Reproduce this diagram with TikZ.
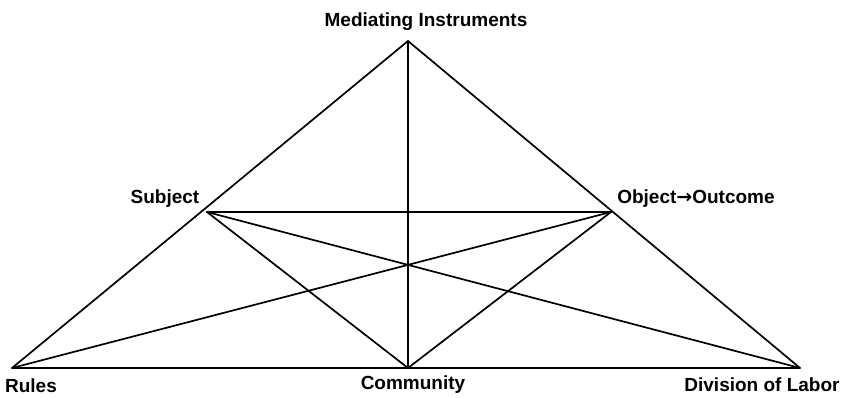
\documentclass[tikz,border=0pt]{standalone}
\usepackage{fontspec}
\setmainfont{Liberation Sans}
\newfontfamily\arrowfont{DejaVu Sans}
\begin{document}
\begin{tikzpicture}[x=1pt,y=-1pt,
  lbl/.style={font=\bfseries\fontsize{19}{22}\selectfont, inner sep=0pt},
  edge/.style={line width=1.7pt, line cap=round},
  base/.style={line width=2.6pt}]
\useasboundingbox (0,0) rectangle (846,398);
\coordinate (M) at (408,41);
\coordinate (R) at (12,368);
\coordinate (D) at (800,368);
\coordinate (C) at (408,368);
\coordinate (S) at (207,212);
\coordinate (O) at (611,212);
\draw[edge] (R) -- (M) -- (D);
\draw[base] (R) -- (D);
\draw[edge] (M) -- (C);
\draw[edge] (S) -- (O);
\draw[edge] (S) -- (C) -- (O);
\draw[edge] (S) -- (D);
\draw[edge] (O) -- (R);
\node[lbl] (tM) at (426,22) {Mediating Instruments};
\node[lbl] (tS) at (165,199) {Subject};
\node[lbl] (tO) at (696,199) {Object{\arrowfont\bfseries →}Outcome};
\node[lbl] (tR) at (31,386) {Rules};
\node[lbl] (tC) at (413,385) {Community};
\node[lbl] (tD) at (762,385) {Division of Labor};
\end{tikzpicture}
\end{document}
